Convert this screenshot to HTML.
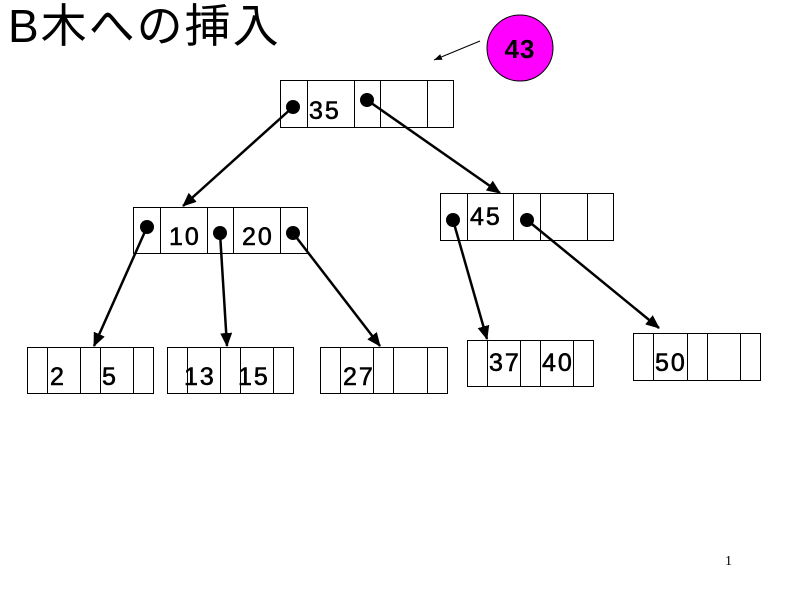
<!DOCTYPE html>
<html><head><meta charset="utf-8"><style>
html,body{margin:0;padding:0;background:#fff;}
svg{display:block}
</style></head><body>
<svg width="800" height="600" viewBox="0 0 800 600" xmlns="http://www.w3.org/2000/svg">
<defs>
<marker id="ah" markerWidth="14" markerHeight="12" refX="13" refY="6" orient="auto" markerUnits="userSpaceOnUse" viewBox="0 0 14 12">
<path d="M0,0 L14,6 L0,12 z" fill="#000"/></marker>
<marker id="ah2" markerWidth="8" markerHeight="6" refX="8" refY="3" orient="auto" markerUnits="userSpaceOnUse" viewBox="0 0 8 6">
<path d="M0,0 L8,3 L0,6 z" fill="#000"/></marker>
</defs>
<text x="8" y="42" font-family="Liberation Sans, Noto Sans CJK JP, sans-serif" font-size="46" letter-spacing="2">B木への挿入</text>
<circle cx="520" cy="48" r="33" fill="#ff00ff" stroke="#000" stroke-width="1"/>
<text x="520" y="58" text-anchor="middle" font-family="Liberation Sans, sans-serif" font-size="26" font-weight="bold" letter-spacing="1">43</text>
<line x1="480" y1="41" x2="434" y2="60" stroke="#000" stroke-width="1" marker-end="url(#ah2)"/>
<g fill="#fff" stroke="#000" stroke-width="1">
<rect x="280.5" y="80.5" width="173" height="47"/>
<line x1="307.5" y1="80" x2="307.5" y2="128"/><line x1="354.5" y1="80" x2="354.5" y2="128"/><line x1="380.5" y1="80" x2="380.5" y2="128"/><line x1="427.5" y1="80" x2="427.5" y2="128"/>
<rect x="133.5" y="207.5" width="174" height="46"/>
<line x1="160.5" y1="207" x2="160.5" y2="254"/><line x1="207.5" y1="207" x2="207.5" y2="254"/><line x1="233.5" y1="207" x2="233.5" y2="254"/><line x1="280.5" y1="207" x2="280.5" y2="254"/>
<rect x="440.5" y="193.5" width="173" height="47"/>
<line x1="467.5" y1="193" x2="467.5" y2="241"/><line x1="513.5" y1="193" x2="513.5" y2="241"/><line x1="540.5" y1="193" x2="540.5" y2="241"/><line x1="587.5" y1="193" x2="587.5" y2="241"/>
<rect x="27.5" y="347.5" width="126" height="46"/>
<line x1="47.5" y1="347" x2="47.5" y2="394"/><line x1="80.5" y1="347" x2="80.5" y2="394"/><line x1="100.5" y1="347" x2="100.5" y2="394"/><line x1="133.5" y1="347" x2="133.5" y2="394"/>
<rect x="167.5" y="347.5" width="126" height="46"/>
<line x1="187.5" y1="347" x2="187.5" y2="394"/><line x1="220.5" y1="347" x2="220.5" y2="394"/><line x1="240.5" y1="347" x2="240.5" y2="394"/><line x1="273.5" y1="347" x2="273.5" y2="394"/>
<rect x="320.5" y="347.5" width="127" height="46"/>
<line x1="340.5" y1="347" x2="340.5" y2="394"/><line x1="373.5" y1="347" x2="373.5" y2="394"/><line x1="393.5" y1="347" x2="393.5" y2="394"/><line x1="427.5" y1="347" x2="427.5" y2="394"/>
<rect x="467.5" y="340.5" width="126" height="46"/>
<line x1="487.5" y1="340" x2="487.5" y2="387"/><line x1="520.5" y1="340" x2="520.5" y2="387"/><line x1="540.5" y1="340" x2="540.5" y2="387"/><line x1="573.5" y1="340" x2="573.5" y2="387"/>
<rect x="633.5" y="333.5" width="127" height="47"/>
<line x1="653.5" y1="333" x2="653.5" y2="381"/><line x1="687.5" y1="333" x2="687.5" y2="381"/><line x1="707.5" y1="333" x2="707.5" y2="381"/><line x1="740.5" y1="333" x2="740.5" y2="381"/>
</g>
<g font-family="Liberation Sans, sans-serif" font-size="25" fill="#000" stroke="#000" stroke-width="0.6" letter-spacing="2">
<text x="309" y="119">35</text>
<text x="169" y="245">10</text>
<text x="242" y="245">20</text>
<text x="470" y="225">45</text>
<text x="50" y="385">2</text>
<text x="102" y="385">5</text>
<text x="184" y="385">13</text>
<text x="238" y="385">15</text>
<text x="343" y="385">27</text>
<text x="489" y="371">37</text>
<text x="542" y="371">40</text>
<text x="655" y="371">50</text>
</g>
<g stroke="#000" stroke-width="2.5" fill="none">
<line x1="293" y1="107" x2="183" y2="206" marker-end="url(#ah)"/>
<line x1="367" y1="100" x2="500" y2="193" marker-end="url(#ah)"/>
<line x1="147" y1="227" x2="94" y2="346" marker-end="url(#ah)"/>
<line x1="220" y1="233" x2="227" y2="346" marker-end="url(#ah)"/>
<line x1="293" y1="233" x2="380" y2="346" marker-end="url(#ah)"/>
<line x1="453" y1="220" x2="487" y2="339" marker-end="url(#ah)"/>
<line x1="527" y1="220" x2="659" y2="328" marker-end="url(#ah)"/>
</g>
<g fill="#000">
<circle cx="293" cy="107" r="7"/><circle cx="367" cy="100" r="7"/>
<circle cx="147" cy="227" r="7"/><circle cx="220" cy="233" r="7"/><circle cx="293" cy="233" r="7"/>
<circle cx="453" cy="220" r="7"/><circle cx="527" cy="220" r="7"/>
</g>
<text x="725" y="565" font-family="Liberation Serif, serif" font-size="14">1</text>
</svg>
</body></html>
